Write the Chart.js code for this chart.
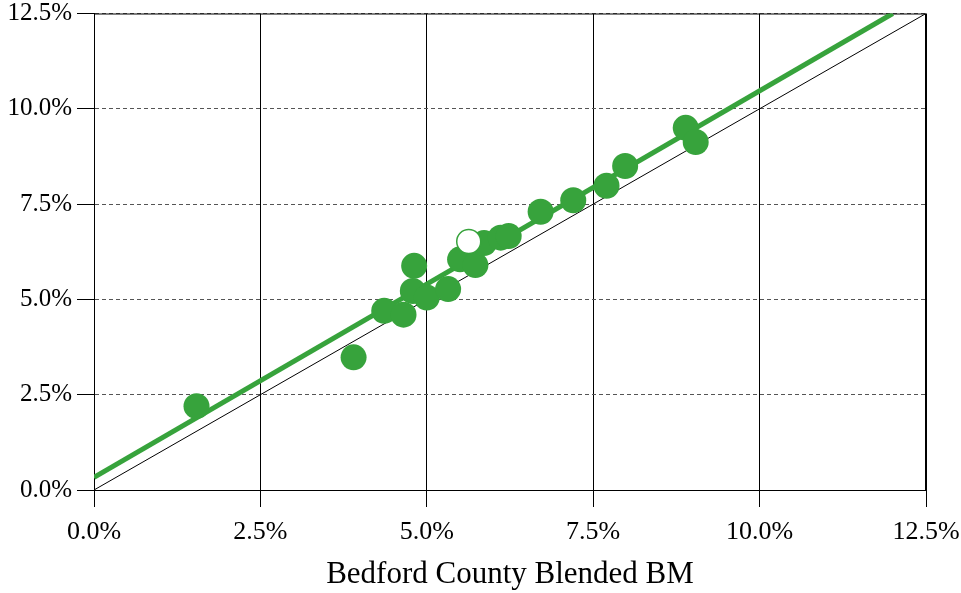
<!DOCTYPE html>
<html>
<head>
<meta charset="utf-8">
<script src="https://cdn.jsdelivr.net/npm/chart.js@4"></script>
<style>
  html, body { margin: 0; padding: 0; background: #fff; }
  #wrap { width: 961px; height: 593px; position: relative; }
</style>
</head>
<body>
<div id="wrap"><canvas id="chart"></canvas></div>
<script>
/* ── Data ── */
const blendedBM = [1.54, 3.90, 4.36, 4.65, 4.81, 4.79, 5.00, 5.32, 5.50, 5.73, 5.86, 6.11, 6.23, 6.71, 7.20, 7.70, 7.98, 8.89, 9.04];
const portfolio = [2.20, 3.48, 4.70, 4.60, 5.88, 5.22, 5.05, 5.27, 6.05, 5.90, 6.48, 6.62, 6.66, 7.30, 7.60, 7.98, 8.50, 9.50, 9.13];
const highlightX = [5.63];
const highlightY = [6.52];
const fitX = [0, 12.0];
const fitY = [0.33, 12.5];
const refX = [0, 12.5];
const refY = [0, 12.5];
const tickValues = [0, 2.5, 5, 7.5, 10, 12.5];

const GREEN = "#37a33c";
const FONT = "'Liberation Serif', 'Times New Roman', serif";

const toXY = (xs, ys) => xs.map((x, i) => ({ x: x, y: ys[i] }));

/* ── Solid frame around plot area ── */
const frame = {
  id: "frame",
  beforeDatasetsDraw(chart) {
    const a = chart.chartArea, c = chart.ctx;
    c.save();
    c.strokeStyle = "#000";
    c.lineWidth = 1;
    c.strokeRect(a.left + 0.5, a.top + 0.5, a.right - a.left - 1, a.bottom - a.top);
    c.restore();
  }
};

const pctTick = v => v.toFixed(1) + "%";

new Chart(document.getElementById("chart"), {
  type: "scatter",
  data: {
    datasets: [
      {
        data: toXY(highlightX, highlightY),
        backgroundColor: "#fff",
        borderColor: GREEN,
        borderWidth: 1.5,
        pointRadius: 12,
        order: 0
      },
      {
        data: toXY(blendedBM, portfolio),
        backgroundColor: GREEN,
        borderWidth: 0,
        pointRadius: 13,
        order: 1
      },
      {
        type: "line",
        data: toXY(fitX, fitY),
        borderColor: GREEN,
        borderWidth: 5,
        pointRadius: 0,
        order: 2
      },
      {
        type: "line",
        data: toXY(refX, refY),
        borderColor: "#000",
        borderWidth: 1,
        pointRadius: 0,
        order: 3
      }
    ]
  },
  options: {
    responsive: true,
    maintainAspectRatio: false,
    animation: false,
    layout: { padding: { top: 9, right: 35, left: 0, bottom: 0 } },
    plugins: { legend: { display: false }, tooltip: { enabled: false } },
    scales: {
      x: {
        type: "linear",
        min: 0, max: 12.5,
        afterBuildTicks: s => { s.ticks = tickValues.map(v => ({ value: v })); },
        afterFit: s => { s.height = 103; s.paddingLeft = 0; s.paddingRight = 0; },
        grid: { color: "#000", lineWidth: 1, tickLength: 17, tickColor: "#000" },
        border: { color: "#000" },
        ticks: { color: "#000", font: { family: FONT, size: 26 }, padding: 10, maxRotation: 0, callback: pctTick },
        title: { display: true, text: "Bedford County Blended BM", color: "#000", font: { family: FONT, size: 31 }, padding: { top: 3, bottom: 0 } }
      },
      y: {
        type: "linear",
        min: 0, max: 12.5,
        afterBuildTicks: s => { s.ticks = tickValues.map(v => ({ value: v })); },
        afterFit: s => { s.width = 94; s.paddingTop = 0; s.paddingBottom = 0; },
        grid: { color: "#555", lineWidth: 1, tickLength: 17, tickColor: "#000", tickBorderDash: [] },
        border: { color: "#000", dash: [4, 3] },
        ticks: { color: "#000", font: { family: FONT, size: 25 }, padding: 5, callback: pctTick }
      }
    }
  },
  plugins: [frame]
});
</script>
</body>
</html>
